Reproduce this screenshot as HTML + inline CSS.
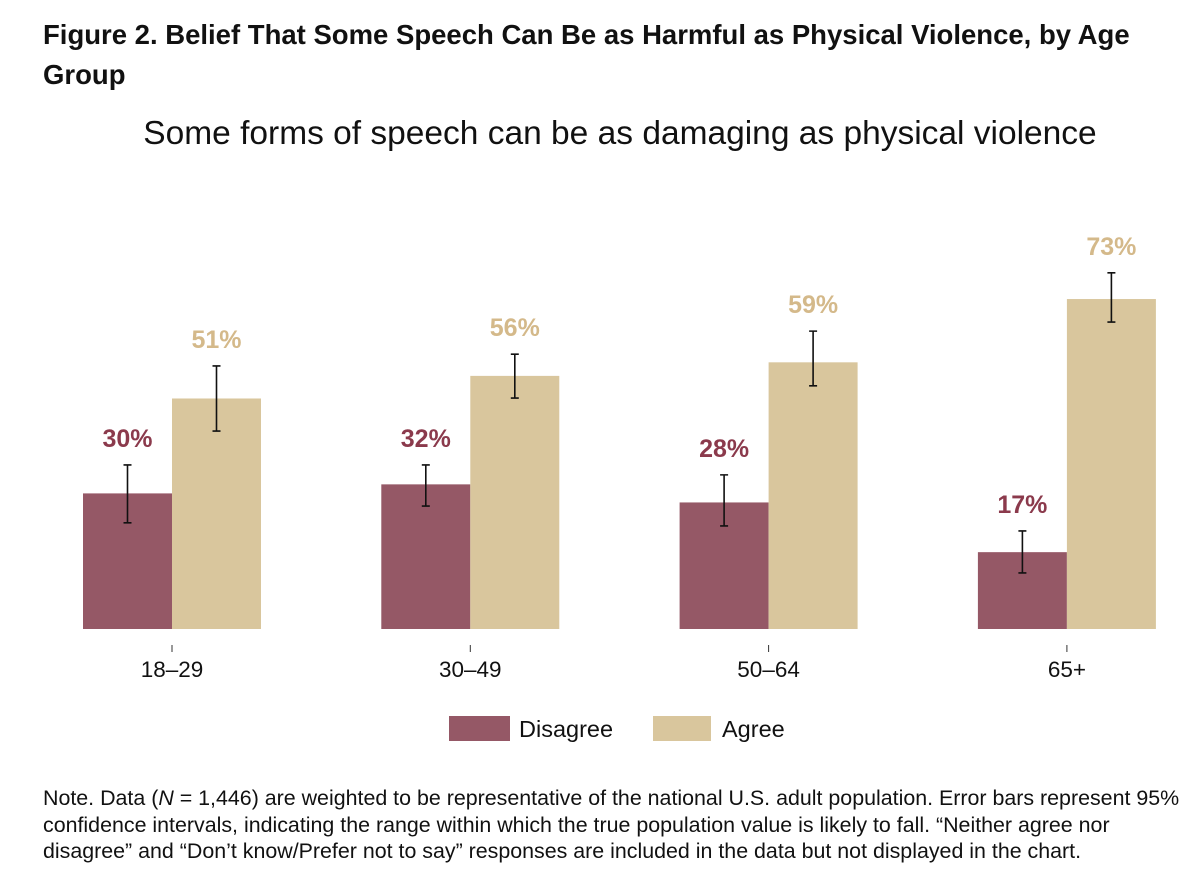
<!DOCTYPE html>
<html><head><meta charset="utf-8"><style>
body{margin:0;background:#fff;width:1200px;height:890px;overflow:hidden;font-family:"Liberation Sans",sans-serif}
#title{position:absolute;left:43px;top:15px;width:1110px;font-weight:bold;font-size:27.5px;line-height:40px;color:#111}
#note{position:absolute;left:43px;top:785px;width:1145px;font-size:21.4px;line-height:26.5px;color:#111}
svg{position:absolute;left:0;top:0}
</style></head><body>
<div id="title">Figure 2. Belief That Some Speech Can Be as Harmful as Physical Violence, by Age Group</div>
<svg id="chart" width="1200" height="890">
<text x="620" y="144" text-anchor="middle" font-size="33.5" fill="#111">Some forms of speech can be as damaging as physical violence</text>
<g id="marks"></g>
<g>
<rect x="449" y="716" width="61" height="25" fill="#955866"/>
<text x="519" y="737" font-size="23.5" fill="#111">Disagree</text>
<rect x="653" y="716" width="58" height="25" fill="#d9c69d"/>
<text x="722" y="737" font-size="23.5" fill="#111">Agree</text>
</g>
</svg>
<div id="note">Note. Data (<i>N</i> = 1,446) are weighted to be representative of the national U.S. adult population. Error bars represent 95% confidence intervals, indicating the range within which the true population value is likely to fall. “Neither agree nor disagree” and “Don’t know/Prefer not to say” responses are included in the data but not displayed in the chart.</div>
<script>
const categories=["18–29","30–49","50–64","65+"];
const disagree=[30,32,28,17];
const agree=[51,56,59,73];
const disagreeLo=[23.5,27.2,22.8,12.4];
const disagreeHi=[36.3,36.3,34.1,21.7];
const agreeLo=[43.8,51.1,53.8,67.9];
const agreeHi=[58.2,60.8,65.9,78.8];
const NS="http://www.w3.org/2000/svg";
const g=document.getElementById('marks');
const base=629, ppu=4.52, x0=172, step=298.3, bw=89;
const y=v=>base-v*ppu;
const xc=i=>x0+i*step;
function mk(t,a){const e=document.createElementNS(NS,t);for(const k in a)e.setAttribute(k,a[k]);g.appendChild(e);return e;}
function series(vals,lo,hi,off,fill,lc,nm){
 vals.forEach((v,i)=>{
  const x=xc(i)+off;
  const r=mk('rect',{x:x,y:y(v),width:bw,height:base-y(v),fill:fill});
  
  
  const cx=x+bw/2;
  const eb=mk('path',{d:`M${cx},${y(hi[i])}V${y(lo[i])}M${cx-4},${y(hi[i])}H${cx+4}M${cx-4},${y(lo[i])}H${cx+4}`,stroke:'#111','stroke-width':1.6,fill:'none'});
  
  
  const t=mk('text',{x:cx,y:y(hi[i])-18,'text-anchor':'middle','font-size':25,'font-weight':'bold',fill:lc});
  t.textContent=v+'%';
  
  
 });
}
series(disagree,disagreeLo,disagreeHi,-bw,'#955866','#8b3a4c','disagree');
series(agree,agreeLo,agreeHi,0,'#d9c69d','#d4b98a','agree');
categories.forEach((c,i)=>{
 const tk=mk('line',{x1:xc(i),x2:xc(i),y1:645,y2:652,stroke:'#333','stroke-width':1});
 
 
 const t=mk('text',{x:xc(i),y:677,'text-anchor':'middle','font-size':22.5,fill:'#111'});
 t.textContent=c;
 
 
});
</script>
</body></html>
